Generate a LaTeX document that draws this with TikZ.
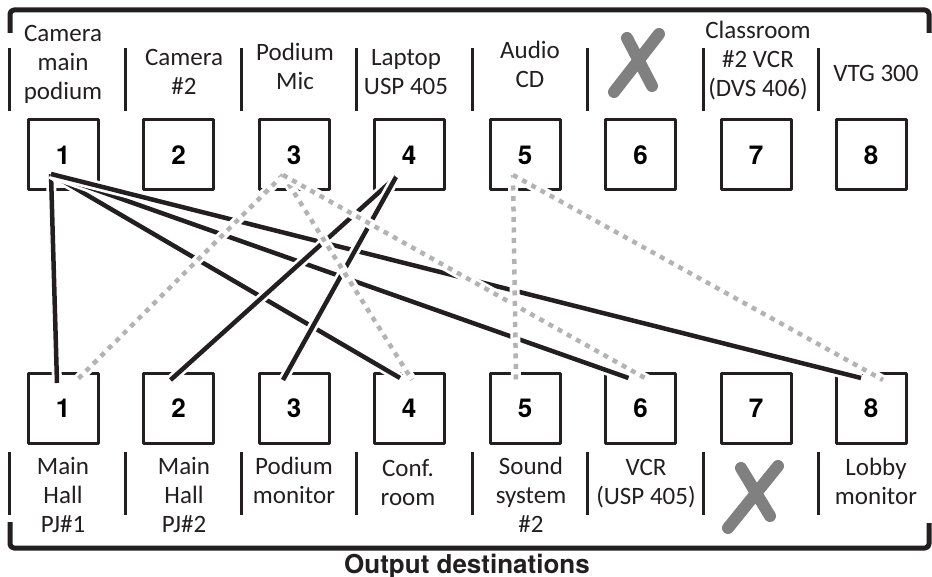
\documentclass[tikz,border=0pt]{standalone}
\usepackage{fontspec}
\setmainfont{Carlito}
\newfontfamily\headfont{TeX Gyre Heros}
\usepackage{tikz}
\usepackage{xcolor}
\definecolor{ink}{HTML}{231F20}
\definecolor{dotgray}{HTML}{B3B3B5}
\definecolor{crossgray}{HTML}{808080}

\begin{document}
\begin{tikzpicture}[x=1pt,y=-1pt,line join=round,
 box/.style={draw=ink,line width=3pt,minimum width=70pt,minimum height=70pt,inner sep=0pt,font=\headfont\bfseries\fontsize{26}{30}\selectfont},
 lbl/.style={anchor=base,align=center,inner sep=0pt,text=ink,font=\fontsize{25}{29}\selectfont},
 sep/.style={draw=ink,line width=3pt},
 brk/.style={draw=ink,line width=5pt,rounded corners=4pt},
 wire/.style={ink,line width=4.5pt,preaction={draw=white,line width=10pt}},
 dots/.style={dotgray,line width=4.5pt,dash pattern=on 5pt off 5.5pt,preaction={draw=white,line width=10pt}},
 cross/.style={crossgray,line width=12pt,line cap=round}]
\useasboundingbox (0,0) rectangle (932,577);
% brackets and separators
\draw[brk](10,33)--(10,10)--(929,10)--(929,33);
\draw[brk](10,522)--(10,548)--(929,548)--(929,523);
\draw[sep](9.5,48)--(9.5,111) (125.5,48)--(125.5,111) (241,48)--(241,111) (356.5,48)--(356.5,111)
 (472,48)--(472,111) (587.5,48)--(587.5,111) (703,48)--(703,111) (818,48)--(818,111);
\draw[sep](9.5,452)--(9.5,515) (125.5,452)--(125.5,515) (241,452)--(241,515) (356.5,452)--(356.5,515)
 (472,452)--(472,515) (587.5,452)--(587.5,515) (703,452)--(703,515) (818,452)--(818,515);
% sources (base = last line)
\node[lbl](l1) at (63,100){Camera\\main\\podium};
\node[lbl](l2) at (184,95){Camera\\\#2};
\node[lbl](l3) at (295,90){Podium\\Mic};
\node[lbl](l4) at (406,95){Laptop\\USP 405};
\node[lbl](l5) at (530,88){Audio\\CD};
\node[lbl](l7) at (758,97){Classroom\\\#2 VCR\\(DVS 406)};
\node[lbl](l8) at (876,82){VTG 300};
\node[box](i1) at (63,155){1};\node[box](i2) at (178.5,155){2};
\node[box](i3) at (294,155){3};\node[box](i4) at (409,155){4};
\node[box](i5) at (525,155){5};\node[box](i6) at (640.5,155){6};
\node[box](i7) at (756,155){7};\node[box](i8) at (871,155){8};
% destinations
\node[box](o1) at (63,408){1};\node[box](o2) at (178.5,408){2};
\node[box](o3) at (294,408){3};\node[box](o4) at (409,408){4};
\node[box](o5) at (525,408){5};\node[box](o6) at (640.5,408){6};
\node[box](o7) at (756,408){7};\node[box](o8) at (871,408){8};
\node[lbl](m1) at (63,532){Main\\Hall\\PJ\#1};
\node[lbl](m2) at (184,532){Main\\Hall\\PJ\#2};
\node[lbl](m3) at (294,503){Podium\\monitor};
\node[lbl](m4) at (408,505){Conf.\\room};
\node[lbl](m5) at (531,532){Sound\\system\\\#2};
\node[lbl](m6) at (646,504){VCR\\(USP 405)};
\node[lbl](m8) at (876,504){Lobby\\monitor};
\node[anchor=base,inner sep=0pt,text=ink,font=\headfont\bfseries\fontsize{26}{30}\selectfont](ttl) at (467,573){Output destinations};
% unused inputs/outputs
\draw[cross](614,92)--(659,34) (627,38)--(652,86);
\draw[cross](728,528)--(778,466) (741,468)--(770,516);
% routing
\draw[wire]([shift={(-12,19)}]i1.center)--([shift={(-6,-25)}]o1.center);
\draw[wire]([shift={(-12,19)}]i1.center)--([shift={(-9,-30)}]o4.center);
\draw[wire]([shift={(-12,19)}]i1.center)--([shift={(-12,-30)}]o6.center);
\draw[wire]([shift={(-12,19)}]i1.center)--([shift={(-10,-30)}]o8.center);
\draw[wire]([shift={(-13,22)}]i4.center)--([shift={(-8,-28)}]o2.center);
\draw[wire]([shift={(-13,22)}]i4.center)--([shift={(-11,-28)}]o3.center);
\draw[dots]([shift={(-11,20)}]i3.center)--([shift={(14,-28)}]o1.center);
\draw[dots]([shift={(-11,20)}]i3.center)--([shift={(3,-28)}]o4.center);
\draw[dots]([shift={(-11,20)}]i3.center)--([shift={(8,-28)}]o6.center);
\draw[dots]([shift={(-12,20)}]i5.center)--([shift={(-9,-28)}]o5.center);
\draw[dots]([shift={(-12,20)}]i5.center)--([shift={(12,-28)}]o8.center);
\end{tikzpicture}
\end{document}
